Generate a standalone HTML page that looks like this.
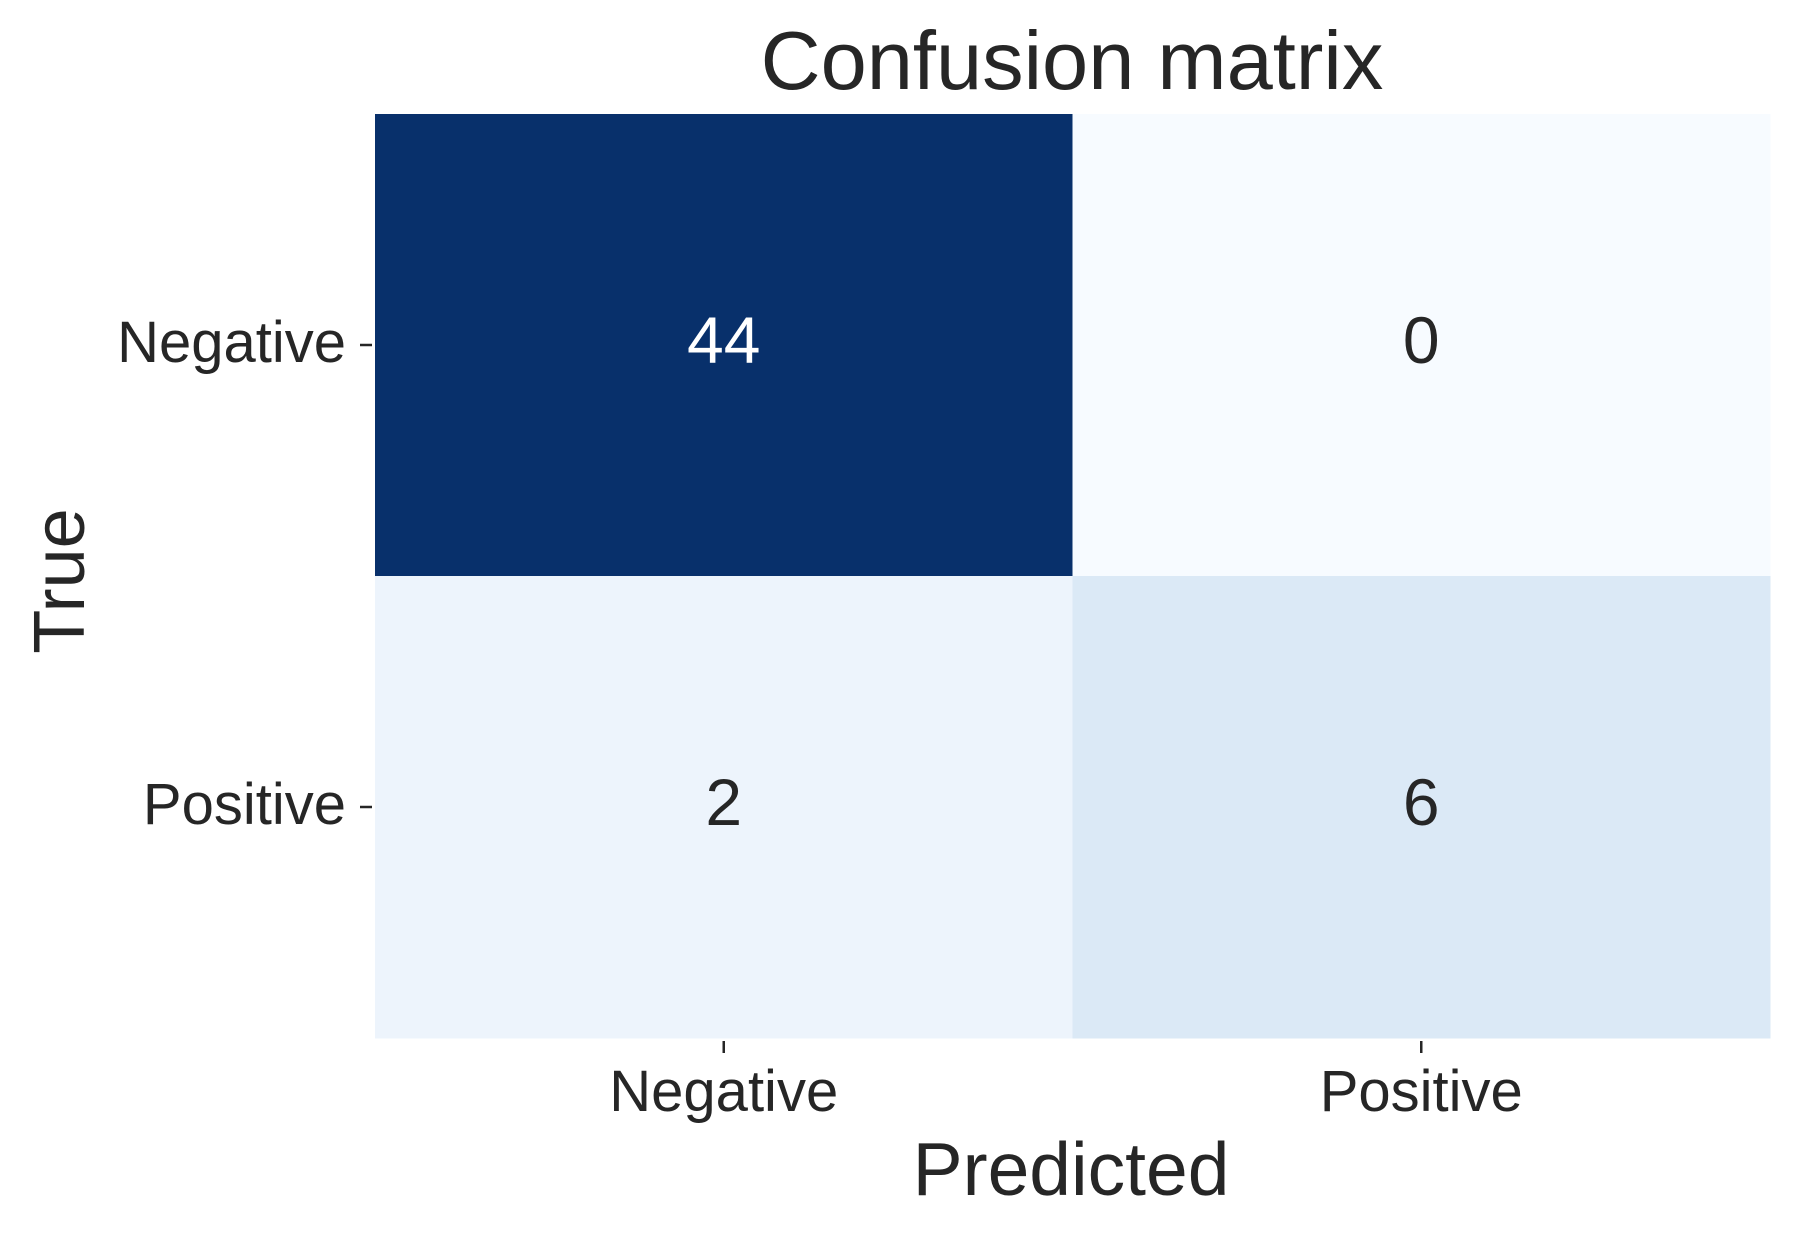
<!DOCTYPE html>
<html><head><meta charset="utf-8"><style>
html,body{margin:0;padding:0;background:#fff;}
svg{display:block;font-family:"Liberation Sans",Arial,sans-serif;}
</style></head><body>
<svg id="chart" width="1800" height="1237" viewBox="0 0 1800 1237">
<text x="1072" y="89" text-anchor="middle" font-size="83" fill="#262626">Confusion matrix</text>
<g id="cells"></g>
<g id="ticks"></g>
<text x="1071" y="1195" text-anchor="middle" font-size="75" fill="#262626">Predicted</text>
<text transform="translate(84,581) rotate(-90)" text-anchor="middle" font-size="72" fill="#262626">True</text>
</svg>
<script>
const trueLabels = ["Negative","Positive"];
const predLabels = ["Negative","Positive"];
const values = [[44,0],[2,6]];
const cellColors = [["#08306b","#f7fbff"],["#edf4fc","#dbe9f6"]];
const textColors = [["#ffffff","#262626"],["#262626","#262626"]];

const L=375,R=1770,T=114,B=1038;
const cw=(R-L)/predLabels.length, ch=(B-T)/trueLabels.length;
const xPos=j=>L+j*cw, yPos=i=>T+i*ch;
const NS="http://www.w3.org/2000/svg";
const cells=document.getElementById('cells'), ticks=document.getElementById('ticks');
function mk(tag,attrs,parent,text){const e=document.createElementNS(NS,tag);for(const k in attrs)e.setAttribute(k,attrs[k]);if(text!==undefined)e.textContent=text;parent.appendChild(e);return e;}
for(let i=0;i<trueLabels.length;i++){
  for(let j=0;j<predLabels.length;j++){
    const r=mk('rect',{x:xPos(j),y:yPos(i),width:cw+0.5,height:ch+0.5,fill:cellColors[i][j]},cells);
    
    
    const t=mk('text',{x:xPos(j)+cw/2,y:yPos(i)+ch/2+18,'text-anchor':'middle','font-size':66,fill:textColors[i][j]},cells,String(values[i][j]));
    
    
  }
}
for(let i=0;i<trueLabels.length;i++){
  const cy=yPos(i)+ch/2;
  const ln=mk('line',{x1:360,x2:372,y1:cy,y2:cy,stroke:'#262626','stroke-width':2.5},ticks);
  
  
  const t=mk('text',{x:346,y:cy+17,'text-anchor':'end','font-size':58,fill:'#262626'},ticks,trueLabels[i]);
  
  
}
for(let j=0;j<predLabels.length;j++){
  const cx=xPos(j)+cw/2;
  const ln=mk('line',{x1:cx,x2:cx,y1:1041,y2:1053,stroke:'#262626','stroke-width':2.5},ticks);
  
  
  const t=mk('text',{x:cx,y:1111,'text-anchor':'middle','font-size':58,fill:'#262626'},ticks,predLabels[j]);
  
  
}
</script>
</body></html>
